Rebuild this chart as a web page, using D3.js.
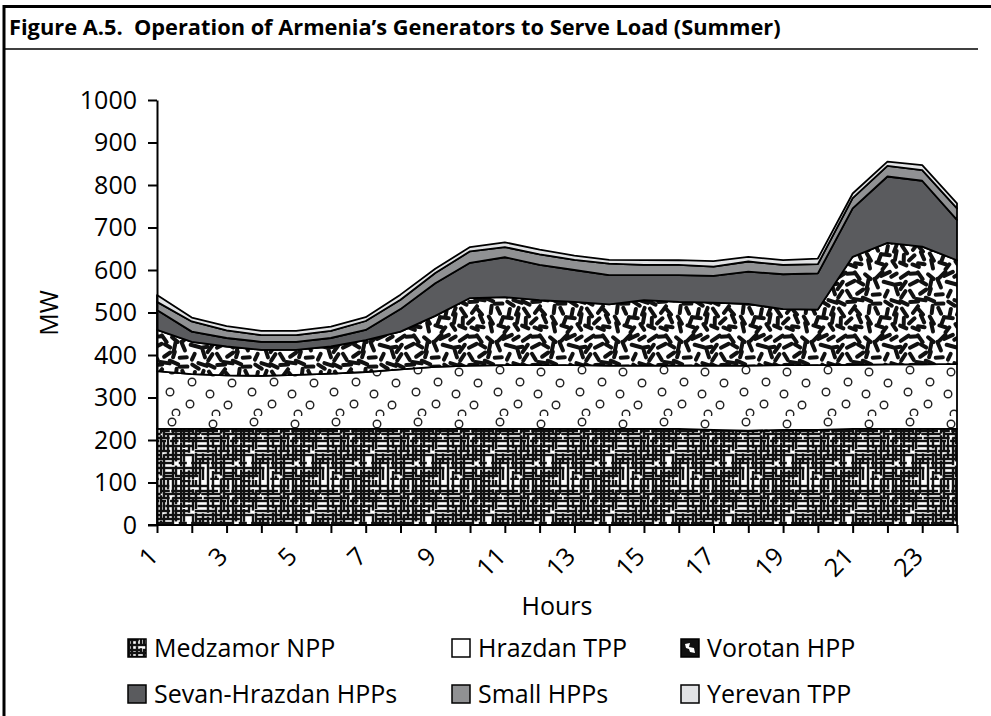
<!DOCTYPE html>
<html>
<head>
<meta charset="utf-8">
<script src="https://cdn.jsdelivr.net/npm/d3@7"></script>
<style>
  body { margin: 0; background: #fff; }
  svg { display: block; font-family: 'Open Sans', sans-serif; }
  .axis path, .axis line { stroke: #000; stroke-width: 2px; }
  .axis text { font-size: 25px; fill: #000; font-family: 'Open Sans', sans-serif; }
</style>
</head>
<body>
<svg id="chart" width="991" height="716"></svg>
<script>
'use strict'

const hours = [1, 2, 3, 4, 5, 6, 7, 8, 9, 10, 11, 12, 13, 14, 15, 16, 17, 18, 19, 20, 21, 22, 23, 24]
const seriesNames = ['Medzamor NPP', 'Hrazdan TPP', 'Vorotan HPP', 'Sevan-Hrazdan HPPs', 'Small HPPs', 'Yerevan TPP']
const medzamor = [226, 226, 226, 226, 226, 226, 226, 226, 226, 226, 226, 226, 226, 226, 226, 226, 224, 222, 224, 224, 226, 226, 226, 226]
const hrazdan = [136, 129, 126, 125, 127, 130, 134, 140, 146, 149, 150, 150, 150, 149, 149, 149, 151, 153, 152, 152, 151, 152, 152, 153]
const vorotan = [97, 76, 68, 61, 59, 64, 75, 89, 120, 159, 160, 153, 149, 144, 154, 150, 148, 145, 132, 131, 254, 286, 277, 244]
const sevan = [47, 24, 20, 19, 19, 20, 24, 53, 77, 83, 94, 83, 75, 69, 59, 63, 63, 76, 82, 85, 114, 156, 155, 95]
const smallHpp = [19, 24, 18, 16, 16, 17, 21, 22, 24, 27, 24, 25, 24, 27, 24, 24, 22, 24, 22, 22, 24, 25, 25, 27]
const yerevan = [16, 9, 10, 10, 10, 10, 9, 12, 10, 10, 11, 11, 10, 9, 11, 11, 13, 11, 11, 13, 11, 10, 12, 12]
const yTicks = [0, 100, 200, 300, 400, 500, 600, 700, 800, 900, 1000]

const columns = [medzamor, hrazdan, vorotan, sevan, smallHpp, yerevan]
const table = hours.map(function (h, i) {
    const row = {hour: h}
    seriesNames.forEach(function (name, k) { row[name] = columns[k][i] })
    return row
})

const svg = d3.select('#chart')
const defs = svg.append('defs')

// small seeded generator, only used for the texture of the fill patterns
function lcg(seed) {
    let s = seed
    return function () {
        s = (s * 1664525 + 1013904223) % 4294967296
        return s / 4294967296
    }
}

// maze-like grid for the nuclear plant
function gridPattern(id) {
    const size = 60
    const rnd = lcg(7)
    const p = defs.append('pattern').attr('id', id)
        .attr('patternUnits', 'userSpaceOnUse')
        .attr('width', size).attr('height', size)
    p.append('rect').attr('width', size).attr('height', size).attr('fill', '#fff')
    function strokes(horizontal) {
        for (let v = 1; v < size; v += 3 + Math.floor(rnd() * 3)) {
            let t = 0
            while (t < size) {
                const len = 5 + rnd() * 24
                if (rnd() > 0.15) {
                    const l = p.append('line').attr('stroke', '#111').attr('stroke-width', 2.4)
                    if (horizontal)
                        l.attr('x1', t).attr('x2', Math.min(size, t + len)).attr('y1', v).attr('y2', v)
                    else
                        l.attr('y1', t).attr('y2', Math.min(size, t + len)).attr('x1', v).attr('x2', v)
                }
                t += len + 1 + rnd() * 4
            }
        }
    }
    strokes(true)
    strokes(false)
}

// open circles for the thermal plant
function circlePattern(id) {
    const w = 82, h = 52
    const spots = [[8, 6], [49, 8], [28, 18], [68, 19], [6, 28], [46, 30], [26, 40], [64, 41], [12, 49], [52, 50]]
    const p = defs.append('pattern').attr('id', id)
        .attr('patternUnits', 'userSpaceOnUse')
        .attr('width', w).attr('height', h)
    p.append('rect').attr('width', w).attr('height', h).attr('fill', '#fff')
    spots.forEach(function (s) {
        p.append('circle').attr('cx', s[0]).attr('cy', s[1]).attr('r', 3.8)
            .attr('fill', '#fff').attr('stroke', '#222').attr('stroke-width', 1.4)
    })
}

// scattered dashes for Vorotan
function confettiPattern(id) {
    const size = 63
    const rnd = lcg(31)
    const p = defs.append('pattern').attr('id', id)
        .attr('patternUnits', 'userSpaceOnUse')
        .attr('width', size).attr('height', size)
    p.append('rect').attr('width', size).attr('height', size).attr('fill', '#fff')
    // jittered grid keeps the dashes evenly spread
    const n = 7, cell = size / n
    for (let gx = 0; gx < n; gx++) {
        for (let gy = 0; gy < n; gy++) {
            const cx = (gx + 0.25 + rnd() * 0.5) * cell, cy = (gy + 0.25 + rnd() * 0.5) * cell
            const a = rnd() * Math.PI
            const half = 3 + rnd() * 1.8
            const dx = Math.cos(a) * half, dy = Math.sin(a) * half
            ;[-size, 0, size].forEach(function (ox) {
                ;[-size, 0, size].forEach(function (oy) {
                    p.append('line')
                        .attr('x1', cx - dx + ox).attr('y1', cy - dy + oy)
                        .attr('x2', cx + dx + ox).attr('y2', cy + dy + oy)
                        .attr('stroke', '#111').attr('stroke-width', 4)
                        .attr('stroke-linecap', 'round')
                })
            })
        }
    }
}

gridPattern('pat-medzamor')
circlePattern('pat-hrazdan')
confettiPattern('pat-vorotan')

const fills = ['url(#pat-medzamor)', 'url(#pat-hrazdan)', 'url(#pat-vorotan)', '#5a5b5e', '#909193', '#e2e3e5']
const swatchFills = ['url(#pat-medzamor)', '#fff', '#111', '#5a5b5e', '#909193', '#e2e3e5']

// frame and title
svg.append('rect').attr('width', 991).attr('height', 716).attr('fill', '#fff')
svg.append('line').attr('x1', 4).attr('x2', 4).attr('y1', 5).attr('y2', 716)
    .attr('stroke', '#000').attr('stroke-width', 3)
svg.append('line').attr('x1', 3).attr('x2', 991).attr('y1', 6.5).attr('y2', 6.5)
    .attr('stroke', '#000').attr('stroke-width', 3)
svg.append('line').attr('x1', 4).attr('x2', 978).attr('y1', 49).attr('y2', 49)
    .attr('stroke', '#000').attr('stroke-width', 1.5)
svg.append('text').attr('x', 9).attr('y', 35)
    .attr('font-size', 21.8).attr('font-weight', 'bold')
    .text('Figure A.5.\u00a0\u00a0Operation of Armenia\u2019s Generators to Serve Load (Summer)')

const x = d3.scalePoint().domain(hours).range([157, 957])
const y = d3.scaleLinear().domain([0, 1000]).range([525, 100])

const stacked = d3.stack().keys(seriesNames)(table)
const area = d3.area()
    .x(function (d) { return x(d.data.hour) })
    .y0(function (d) { return y(d[0]) })
    .y1(function (d) { return y(d[1]) })

svg.append('g').selectAll('path')
    .data(stacked)
    .join('path')
    .attr('d', area)
    .attr('fill', function (d, i) { return fills[i] })
    .attr('stroke', '#000')
    .attr('stroke-width', 1.8)
    .attr('stroke-linejoin', 'round')

svg.append('g')
    .attr('class', 'axis')
    .attr('transform', 'translate(157,0)')
    .call(d3.axisLeft(y).tickValues(yTicks).tickSize(9).tickSizeOuter(0).tickPadding(11)
        .tickFormat(d3.format('d')))

const xAxis = svg.append('g')
    .attr('class', 'axis')
    .attr('transform', 'translate(0,525)')
    .call(d3.axisBottom(x).tickSize(8).tickSizeOuter(0)
        .tickFormat(function (d) { return d % 2 ? d : '' }))
xAxis.select('.domain').attr('d', 'M148,0H957')
xAxis.selectAll('.tick text')
    .attr('text-anchor', 'end')
    .attr('x', 0).attr('y', 0).attr('dy', 0)
    .attr('transform', 'translate(2,33) rotate(-45)')

svg.append('text').attr('x', 557).attr('y', 615)
    .attr('text-anchor', 'middle').attr('font-size', 25)
    .text('Hours')
svg.append('text')
    .attr('transform', 'translate(58,313) rotate(-90)')
    .attr('text-anchor', 'middle').attr('font-size', 25)
    .text('MW')

// legend, three columns by two rows
const legendX = [128, 452, 681]
const legendY = [639, 685]
const legend = svg.append('g').selectAll('g')
    .data(seriesNames)
    .join('g')
    .attr('transform', function (d, i) {
        return 'translate(' + legendX[i % 3] + ',' + legendY[Math.floor(i / 3)] + ')'
    })
legend.append('rect')
    .attr('width', 18).attr('height', 18)
    .attr('fill', function (d, i) { return swatchFills[i] })
    .attr('stroke', '#000').attr('stroke-width', 1.5)
legend.filter(function (d, i) { return i === 2 })
    .append('path')
    .attr('d', 'M4,5 L9,4 L8,8 L13,9 L14,14 L9,13 L8,10 L5,9 Z')
    .attr('fill', '#fff')
legend.append('text')
    .attr('x', 26).attr('y', 18)
    .attr('font-size', 25)
    .text(function (d) { return d })
</script>
</body>
</html>
